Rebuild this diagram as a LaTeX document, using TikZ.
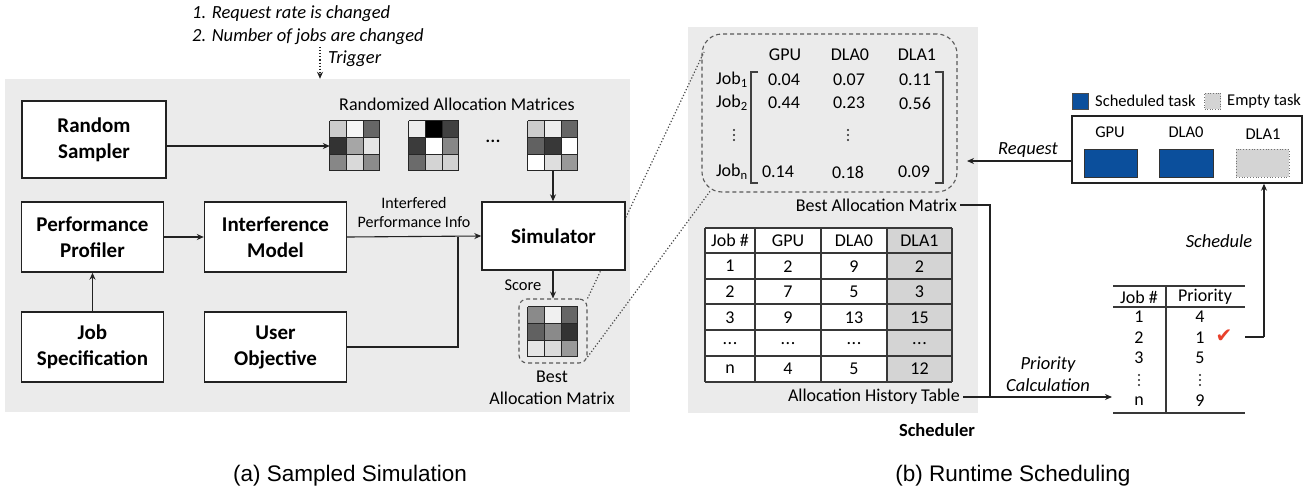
\documentclass[tikz,border=0pt]{standalone}
\usepackage{fontspec}
\setmainfont{Carlito}
\newfontfamily\capfont{Liberation Sans}
\newfontfamily\symfont{DejaVu Sans}
\usetikzlibrary{arrows.meta,calc}

\definecolor{bggray}{HTML}{EBEBEB}
\definecolor{lineg}{HTML}{222222}
\definecolor{schedblue}{HTML}{0B4F9C}
\definecolor{emptyg}{HTML}{D4D4D4}
\definecolor{checkred}{HTML}{E8412C}

\newcommand\tdots{.\kern0.5pt.\kern0.5pt.}
\newcommand\vdotsat[1]{\foreach \dd in {-5,0,5} {\fill[black!85] ($(#1)+(0,\dd)$) circle (1.1pt);}}

\tikzset{
  box/.style={draw=lineg, line width=1.4pt, fill=white, font=\bfseries\fontsize{21}{26}\selectfont, align=center, inner sep=0pt},
  conn/.style={draw=lineg, line width=1.1pt},
  arr/.style={conn, -{Stealth[length=7pt,width=6pt]}},
  lbl/.style={inner sep=0pt, font=\fontsize{18}{21}\selectfont, align=center},
  mlbl/.style={inner sep=0pt, font=\fontsize{16.5}{20}\selectfont, align=center},
  slbl/.style={inner sep=0pt, font=\fontsize{16}{19}\selectfont, align=center},
  itl/.style={inner sep=0pt, font=\itshape\fontsize{18.5}{22}\selectfont, align=center},
  cell/.style={inner sep=0pt, font=\fontsize{18}{21}\selectfont},
  gline/.style={draw=lineg!90, line width=1.1pt},
  dotl/.style={draw=black!70, line width=1.2pt, dotted},
  dashbox/.style={draw=black!65, line width=1.1pt, dash pattern=on 4pt off 3pt, inner sep=0pt},
  captext/.style={inner sep=0pt, font=\capfont\fontsize{22.5}{26}\selectfont},
}

\newcommand\mygrid[3]{%
  \node[inner sep=0pt, minimum size=50pt] (#1) at #2 {};
  \foreach \g [count=\i from 0] in {#3} {
    \pgfmathtruncatemacro\cc{mod(\i,3)}
    \pgfmathtruncatemacro\rr{div(\i,3)}
    \fill[black!\g] ($(#1.north west)+(\cc*16.667,\rr*16.667)$) rectangle ++(16.667,16.667);
  }
  \foreach \k in {0,1,2,3} {
    \draw[line width=1.2pt, black!85] ($(#1.north west)+(\k*16.667,0)$) -- ++(0,50);
    \draw[line width=1.2pt, black!85] ($(#1.north west)+(0,\k*16.667)$) -- ++(50,0);
  }
}

\begin{document}
\begin{tikzpicture}[x=1pt,y=-1pt]
\useasboundingbox (0,0) rectangle (1312,493);

% backgrounds
\node[fill=bggray, inner sep=0pt, minimum width=625pt, minimum height=333pt] (leftbg) at (317.5,245.5) {};
\node[fill=bggray, inner sep=0pt, minimum width=290pt, minimum height=386pt] (rightbg) at (833,220) {};

% zoom boxes (declared first so dotted lines pass behind the simulator)
\node[dashbox, rounded corners=8pt, minimum width=68pt, minimum height=64pt] (bestbox) at (553,331) {};
\node[dashbox, rounded corners=20pt, minimum width=255pt, minimum height=158pt] (bigbox) at (829.5,113) {};
\coordinate (zt) at (704,52);
\coordinate (zb) at (711,190);
\draw[dotl] (bestbox.north east) -- (zt);
\draw[dotl] ($(bestbox.east)+(0,26)$) -- (zb);

% trigger
\node[itl, anchor=west] (t1) at (192,14) {1. Request rate is changed};
\node[itl, anchor=west] (t2) at (192,37) {2. Number of jobs are changed};
\coordinate (trigtop) at (320,47);
\draw[arr, dotted] (trigtop) -- (trigtop |- leftbg.north);
\node[itl, anchor=west] (trig) at (328,59) {Trigger};

% left boxes
\node[box, minimum width=144pt, minimum height=77pt] (rs) at (94,139.5) {Random\\Sampler};
\node[box, minimum width=142pt, minimum height=70pt] (pp) at (92.5,237) {Performance\\Profiler};
\node[box, minimum width=142pt, minimum height=70pt] (im) at (275.5,237) {Interference\\Model};
\node[box, minimum width=143pt, minimum height=68pt] (sim) at (553.5,236) {Simulator};
\node[box, minimum width=142pt, minimum height=70pt] (js) at (92.5,347) {Job\\Specification};
\node[box, minimum width=142pt, minimum height=70pt] (uo) at (275.5,347) {User\\Objective};

% randomized matrices
\node[lbl] (ramlbl) at (457,104) {Randomized Allocation Matrices};
\mygrid{m1}{(355,146)}{20,4,60,80,35,10,47,15,45}
\mygrid{m2}{(434,146)}{7,100,75,77,0,47,58,17,18}
\mygrid{m3}{(553,146)}{20,7,60,62,78,0,0,13,40}
\node[inner sep=0pt, font=\bfseries\fontsize{17}{19}\selectfont] (mdots) at (493,141) {\tdots};
\mygrid{mb}{(553,332)}{46,6,60,62,46,80,10,14,40}

% left connectors
\draw[arr] (rs.east |- m1.west) -- (m1.west);
\draw[arr] (m3.south) -- (sim.north -| m3.south);
\draw[arr] (js.north) -- (pp.south);
\draw[arr] (pp.east) -- (im.east -| im.west);
\draw[arr] (im.east) -- (sim.west);
\coordinate (junc) at (458,237);
\draw[conn] (uo.east) -| (junc);
\node[slbl] (ifl1) at (414,203) {Interfered};
\node[slbl] (ifl2) at (414,222) {Performance Info};
\draw[arr] (sim.south -| bestbox.north) -- (bestbox.north);
\node[mlbl] (score) at (523,285) {Score};
\node[lbl] (best1) at (552,377) {Best};
\node[lbl] (best2) at (552,398) {Allocation Matrix};

% big allocation matrix
\node[cell] (hg) at (785,55) {GPU};
\node[cell] (hd0) at (850,55) {DLA0};
\node[cell] (hd1) at (917,55) {DLA1};
\node[cell, anchor=east] (j1) at (748,80) {Job\textsubscript{1}};
\node[cell, anchor=east] (j2) at (748,103) {Job\textsubscript{2}};
\coordinate (jv) at (734,135);
\vdotsat{jv}
\node[cell, anchor=east] (jn) at (748,172) {Job\textsubscript{n}};
\node[cell] (v11) at (784,80) {0.04};
\node[cell] (v12) at (849,80) {0.07};
\node[cell] (v13) at (915,80) {0.11};
\node[cell] (v21) at (784,103) {0.44};
\node[cell] (v22) at (849,103) {0.23};
\node[cell] (v23) at (915,103) {0.56};
\coordinate (vv) at (848,135);
\vdotsat{vv}
\node[cell] (vn1) at (778,172) {0.14};
\node[cell] (vn2) at (848,172) {0.18};
\node[cell] (vn3) at (914,172) {0.09};
\draw[line width=1.1pt, black!75] (758,72) -- (751,72) -- (751,183) -- (758,183);
\draw[line width=1.1pt, black!75] (935,72) -- (943,72) -- (943,183) -- (935,183);
\node[lbl, anchor=east] (bam) at (957,205) {Best Allocation Matrix};

% allocation history table
\fill[emptyg] (887,228) rectangle (952,382);
\fill[white] (705,228) rectangle (887,382);
\foreach \yy in {228,253,279,304,330,356,382} {\draw[gline] (705,\yy) -- (952,\yy);}
\foreach \xx in {705,755,821,887,952} {\draw[gline] (\xx,228) -- (\xx,382);}
\foreach \a/\b/\c/\d [count=\r from 0] in {Job \#/GPU/DLA0/DLA1, 1/2/9/2, 2/7/5/3, 3/9/13/15, \tdots/\tdots/\tdots/\tdots, n/4/5/12} {
  \pgfmathsetmacro\ry{240.5+25.67*\r}
  \node[cell] (t\r a) at (730,\ry) {\a};
  \node[cell] (t\r b) at (788,\ry) {\b};
  \node[cell] (t\r c) at (854,\ry) {\c};
  \node[cell] (t\r d) at (919.5,\ry) {\d};
}
\node[lbl, anchor=east] (aht) at (960,397) {Allocation History Table};
\node[inner sep=0pt, font=\bfseries\fontsize{18.5}{21}\selectfont] (sched) at (937,430) {Scheduler};

% right side: legend and accelerator box
\node[fill=schedblue, draw=black!70, line width=0.6pt, minimum size=16pt, inner sep=0pt] (legb) at (1080,101) {};
\node[mlbl, anchor=west] (legbt) at (1095,101) {Scheduled task};
\node[fill=emptyg, draw=black!55, dotted, line width=0.6pt, minimum size=16pt, inner sep=0pt] (legg) at (1212.5,101) {};
\node[mlbl, anchor=west] (leggt) at (1227,101) {Empty task};

\node[draw=lineg, line width=1.4pt, fill=white, minimum width=230pt, minimum height=67pt, inner sep=0pt] (rbox) at (1187,149.5) {};
\node[mlbl] (rg) at (1110,132) {GPU};
\node[mlbl] (rd0) at (1186,132) {DLA0};
\node[mlbl] (rd1) at (1263,134) {DLA1};
\node[fill=schedblue, draw=black!80, line width=0.8pt, minimum width=53pt, minimum height=28pt, inner sep=0pt] (tk1) at (1110.5,163) {};
\node[fill=schedblue, draw=black!80, line width=0.8pt, minimum width=54pt, minimum height=28pt, inner sep=0pt] (tk2) at (1186,163) {};
\node[fill=emptyg, draw=black!55, dotted, line width=0.8pt, minimum width=53pt, minimum height=28pt, inner sep=0pt] (tk3) at (1262.5,163) {};

\coordinate (reqend) at (967,161);
\draw[arr] (rbox.west |- reqend) -- (reqend);
\node[itl] (req) at (1028,150) {Request};

% history -> priority
\coordinate (vx) at (990,205);
\coordinate (vxb) at (990,397);
\draw[conn] (bam.east) ++(3,0) -- (vx) -- (vxb);
\draw[conn] (aht.east) ++(3,0) -- (vxb);
\coordinate (prin) at (1112,397);
\draw[arr] (vxb) -- (prin);
\node[itl] (pc) at (1048,374) {Priority\\Calculation};

% priority table
\draw[gline] (1113,286) -- (1245,286);
\draw[gline] (1113,307) -- (1245,307);
\draw[gline] (1113,413) -- (1245,413);
\draw[gline] (1166,286) -- (1166,413);
\node[cell] (ph1) at (1139,297) {Job \#};
\node[cell] (ph2) at (1205,297) {Priority};
\foreach \j/\p/\yy [count=\r] in {1/4/317, 2/1/338, 3/5/358, n/9/401} {
  \node[cell] (pj\r) at (1139,\yy) {\j};
  \node[cell] (pp\r) at (1200,\yy) {\p};
}
\coordinate (pjv) at (1139,380);
\vdotsat{pjv}
\coordinate (ppv) at (1200,380);
\vdotsat{ppv}
\node[inner sep=0pt, text=checkred, font=\symfont\fontsize{20}{22}\selectfont] (chk) at (1224,336) {✔};

\coordinate (schs) at (1245,337);
\coordinate (schc) at (1264,337);
\draw[conn] (schs) -- (schc);
\draw[arr] (schc) -- (schc |- rbox.south);
\node[itl] (schl) at (1219,241) {Schedule};

% captions
\node[captext] (capa) at (350,476) {(a) Sampled Simulation};
\node[captext] (capb) at (1013,476) {(b) Runtime Scheduling};
\end{tikzpicture}
\end{document}
